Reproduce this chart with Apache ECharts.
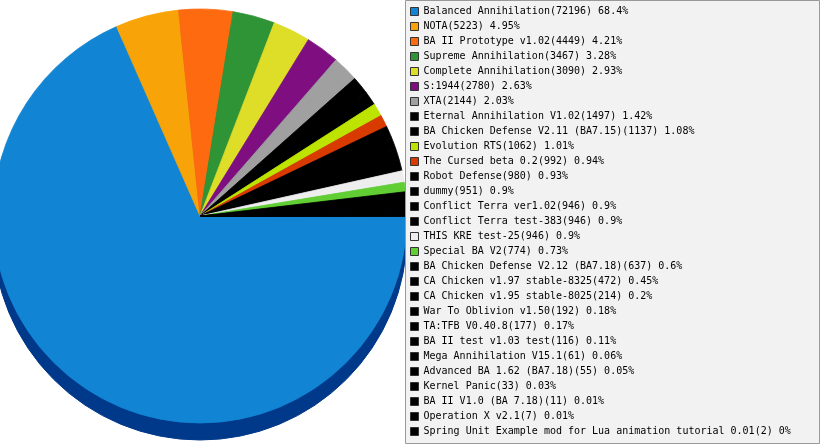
<!DOCTYPE html>
<html>
<head>
<meta charset="utf-8">
<script src="https://cdn.jsdelivr.net/npm/echarts@6/dist/echarts.min.js"></script>
<style>
    html, body { margin: 0; padding: 0; background: #fff; }
    #chart { width: 821px; height: 445px; }
</style>
</head>
<body>
<div id="chart"></div>
<script>
// mods and game counts
var mods = [
    'Balanced Annihilation', 'NOTA', 'BA II Prototype v1.02', 'Supreme Annihilation',
    'Complete Annihilation', 'S:1944', 'XTA', 'Eternal Annihilation V1.02',
    'BA Chicken Defense V2.11 (BA7.15)', 'Evolution RTS', 'The Cursed beta 0.2',
    'Robot Defense', 'dummy', 'Conflict Terra ver1.02', 'Conflict Terra test-383',
    'THIS KRE test-25', 'Special BA V2', 'BA Chicken Defense V2.12 (BA7.18)',
    'CA Chicken v1.97 stable-8325', 'CA Chicken v1.95 stable-8025', 'War To Oblivion v1.50',
    'TA:TFB V0.40.8', 'BA II test v1.03 test', 'Mega Annihilation V15.1',
    'Advanced BA 1.62 (BA7.18)', 'Kernel Panic', 'BA II V1.0 (BA 7.18)', 'Operation X v2.1',
    'Spring Unit Example mod for Lua animation tutorial 0.01'
];
var games = [
    72196, 5223, 4449, 3467, 3090, 2780, 2144, 1497, 1137, 1062, 992, 980, 951, 946, 946,
    946, 774, 637, 472, 214, 192, 177, 116, 61, 55, 33, 11, 7, 2
];
var colors = [
    '#1185d4', '#f8a408', '#fd6a0f', '#2e9435', '#dedd27', '#7f0e80', '#a0a0a0', '#000000',
    '#000000', '#bde400', '#d93a00', '#000000', '#000000', '#000000', '#000000', '#eeeeee',
    '#61cf34', '#000000', '#000000', '#000000', '#000000', '#000000', '#000000', '#000000',
    '#000000', '#000000', '#000000', '#000000', '#000000'
];

var total = 0;
games.forEach(function(v) { total += v; });

var labels = {};
mods.forEach(function(m, i) {
    var pct = parseFloat((games[i] / total * 100).toFixed(2));
    labels[m] = m + '(' + games[i] + ') ' + pct + '%';
});

var chart = echarts.init(document.getElementById('chart'));

chart.setOption({
    animation: false,
    graphic: [{
        //legend box
        type: 'rect',
        z: 4,
        shape: { x: 405.5, y: 0.5, width: 414, height: 443 },
        style: { fill: '#f2f2f2', stroke: '#999999', lineWidth: 1 }
    }],
    legend: {
        orient: 'vertical',
        left: 410,
        top: 4,
        padding: 0,
        itemGap: 0,
        itemWidth: 8,
        itemHeight: 8,
        icon: 'rect',
        selectedMode: false,
        z: 5,
        data: mods,
        itemStyle: { borderColor: '#333', borderWidth: 1 },
        textStyle: {
            fontFamily: 'DejaVu Sans Mono',
            fontSize: 10,
            color: '#000',
            lineHeight: 15
        },
        formatter: function(name) {
            return labels[name];
        }
    },
    series: [{
        type: 'pie',
        center: [200, 216],
        radius: [0, 207],
        startAngle: 0,
        clockwise: true,
        label: { show: false },
        labelLine: { show: false },
        silent: true,
        z: 3,
        //same-colour edge hides the seams between slices
        data: mods.map(function(m, i) {
            return {
                name: m,
                value: games[i],
                itemStyle: { color: colors[i], borderColor: colors[i], borderWidth: 0.8 }
            };
        })
    }, {
        //3d edge under the pie
        type: 'pie',
        center: [200, 233],
        radius: [0, 207],
        startAngle: 0,
        clockwise: true,
        label: { show: false },
        labelLine: { show: false },
        silent: true,
        z: 1,
        itemStyle: { color: '#00388a', borderColor: '#00388a', borderWidth: 1 },
        data: games.map(function(v) {
            return { value: v };
        })
    }]
});
</script>
</body>
</html>
